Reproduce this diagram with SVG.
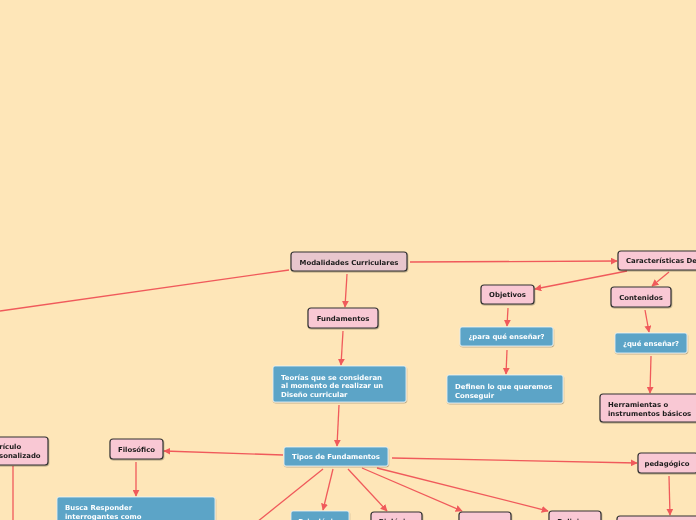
<svg xmlns="http://www.w3.org/2000/svg" width="696" height="520" viewBox="0 0 696 520">
<defs>
<marker id="ah" viewBox="0 0 10 10" refX="9" refY="5" markerWidth="7" markerHeight="7" orient="auto" markerUnits="userSpaceOnUse">
<path d="M0,0 L10,5 L0,10 z" fill="#f05a5b"/>
</marker>
<filter id="sh" x="-10%" y="-10%" width="130%" height="150%">
<feDropShadow dx="0.5" dy="1" stdDeviation="0.6" flood-color="#000" flood-opacity="0.3"/>
</filter>
</defs>
<style>
.t{font-family:"DejaVu Sans",Verdana,sans-serif;font-weight:bold;font-size:6.9px}
.c{text-anchor:middle}
.dk{fill:#1a1a1a}
.wh{fill:#ffffff}
.pk{fill:#f9c8d4;stroke:#333;stroke-width:1.2}
.md{fill:#e8c6cd;stroke:#333;stroke-width:1.2}
.bl{fill:#5ba4c7;stroke:#eef6fa;stroke-width:0.8}
.ln{stroke:#f05a5b;stroke-width:1.3;fill:none}
.la{stroke:#f05a5b;stroke-width:1.3;fill:none;marker-end:url(#ah)}
</style>
<rect x="0" y="0" width="696" height="520" fill="#fee6b8"/>
<g id="connectors">
<line class="ln" x1="289" y1="270" x2="0" y2="311"/>
<line class="la" x1="410" y1="262" x2="617" y2="261"/>
<line class="la" x1="347" y1="274" x2="345" y2="307"/>
<line class="la" x1="343" y1="331" x2="341" y2="365"/>
<line class="la" x1="339" y1="405" x2="337" y2="446"/>
<line class="la" x1="627" y1="271" x2="535" y2="289"/>
<line class="la" x1="669" y1="272" x2="652" y2="286"/>
<line class="la" x1="508" y1="308" x2="507" y2="326"/>
<line class="la" x1="507" y1="350" x2="506" y2="374"/>
<line class="la" x1="645" y1="310" x2="649" y2="332"/>
<line class="la" x1="651" y1="356" x2="650" y2="393"/>
<line class="la" x1="283" y1="455" x2="164" y2="451"/>
<line class="la" x1="136" y1="462" x2="136" y2="496"/>
<line class="ln" x1="13" y1="466" x2="13" y2="520"/>
<line class="la" x1="392" y1="458" x2="637" y2="463"/>
<line class="la" x1="669" y1="476" x2="670" y2="515"/>
<line class="ln" x1="323" y1="469" x2="257" y2="522"/>
<line class="la" x1="333" y1="469" x2="323" y2="510"/>
<line class="la" x1="348" y1="469" x2="387" y2="511"/>
<line class="la" x1="362" y1="468" x2="462" y2="511"/>
<line class="la" x1="377" y1="468" x2="548" y2="511"/>
</g>
<g id="n-modalidades" filter="url(#sh)"><rect class="md" x="291" y="252" width="116" height="19" rx="3"/><text class="t c dk" x="349" y="264.5">Modalidades Curriculares</text></g>
<g id="n-caracteristicas" filter="url(#sh)"><rect class="pk" x="618" y="251" width="95" height="19" rx="3"/><text class="t dk" x="626" y="263">Características De</text></g>
<g id="n-fundamentos" filter="url(#sh)"><rect class="pk" x="308" y="308" width="70" height="20" rx="3"/><text class="t c dk" x="343" y="320.5">Fundamentos</text></g>
<g id="n-objetivos" filter="url(#sh)"><rect class="pk" x="481" y="285" width="53" height="19" rx="3"/><text class="t c dk" x="507.5" y="297">Objetivos</text></g>
<g id="n-contenidos" filter="url(#sh)"><rect class="pk" x="611" y="287" width="60" height="20" rx="3"/><text class="t c dk" x="641" y="299.5">Contenidos</text></g>
<g id="n-paraque" filter="url(#sh)"><rect class="bl" x="460" y="327" width="93" height="19" rx="2"/><text class="t c wh" x="506.5" y="339">¿para qué enseñar?</text></g>
<g id="n-definen" filter="url(#sh)"><rect class="bl" x="447" y="375" width="116" height="28" rx="2"/><text class="t wh" x="455" y="388.5">Definen lo que queremos</text><text class="t wh" x="455" y="397.5">Conseguir</text></g>
<g id="n-queensenar" filter="url(#sh)"><rect class="bl" x="615" y="333" width="72" height="20" rx="2"/><text class="t c wh" x="651" y="345.5">¿qué enseñar?</text></g>
<g id="n-herramientas" filter="url(#sh)"><rect class="pk" x="600" y="394" width="105" height="28" rx="3"/><text class="t dk" x="608" y="406.5">Herramientas o</text><text class="t dk" x="608" y="415.5">instrumentos básicos</text></g>
<g id="n-teorias" filter="url(#sh)"><rect class="bl" x="273" y="366" width="133" height="36" rx="2"/><text class="t wh" x="281" y="379.5">Teorías que se consideran</text><text class="t wh" x="281" y="388">al momento de realizar un</text><text class="t wh" x="281" y="396.5">Diseño curricular</text></g>
<g id="n-tipos" filter="url(#sh)"><rect class="bl" x="284" y="447" width="104" height="19" rx="2"/><text class="t c wh" x="336" y="459">Tipos de Fundamentos</text></g>
<g id="n-filosofico" filter="url(#sh)"><rect class="pk" x="110" y="439" width="53" height="20" rx="3"/><text class="t c dk" x="136.5" y="451.5">Filosófico</text></g>
<g id="n-busca" filter="url(#sh)"><rect class="bl" x="57" y="497" width="158" height="40" rx="2"/><text class="t wh" x="65" y="509.5">Busca Responder</text><text class="t wh" x="65" y="518.5">interrogantes como</text></g>
<g id="n-curriculo" filter="url(#sh)"><rect class="pk" x="-25" y="437" width="73" height="28" rx="3"/><text class="t dk" x="-14" y="448.5">Currículo</text><text class="t dk" x="-14" y="457.5">Personalizado</text></g>
<g id="n-pedagogico" filter="url(#sh)"><rect class="pk" x="638" y="453" width="60" height="20" rx="3"/><text class="t c dk" x="667" y="465.5">pedagógico</text></g>
<g id="n-psicologico" filter="url(#sh)"><rect class="bl" x="291" y="511" width="58" height="20" rx="2"/><text class="t c wh" x="320" y="523.5">Psicológico</text></g>
<g id="n-biologico" filter="url(#sh)"><rect class="pk" x="371" y="512" width="51" height="20" rx="3"/><text class="t c dk" x="396.5" y="524">Biológico</text></g>
<g id="n-social" filter="url(#sh)"><rect class="pk" x="459" y="512" width="52" height="20" rx="3"/></g>
<g id="n-religioso" filter="url(#sh)"><rect class="pk" x="549" y="511" width="52" height="20" rx="3"/><text class="t c dk" x="575" y="523.5">Religioso</text></g>
<g id="n-bottomright" filter="url(#sh)"><rect class="pk" x="617" y="516" width="90" height="20" rx="3"/></g>
</svg>
